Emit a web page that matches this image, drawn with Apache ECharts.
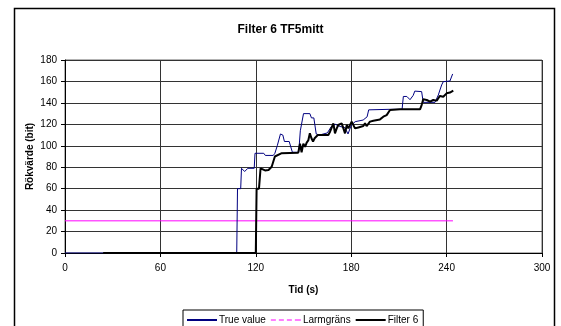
<!DOCTYPE html>
<html>
<head>
<meta charset="utf-8">
<script src="https://cdn.jsdelivr.net/npm/echarts@6/dist/echarts.min.js"></script>
<style>
html,body{margin:0;padding:0;background:#fff;}
#c{width:561px;height:326px;}
</style>
</head>
<body>
<div id="c"></div>
<script>
const chartTitle = 'Filter 6 TF5mitt';
const xAxisName = 'Tid (s)';
const yAxisName = 'Rökvärde (bit)';
const seriesNames = ['True value', 'Larmgräns', 'Filter 6'];

const trueTimes = [0, 108, 108.5, 110.5, 111, 113, 115, 119, 119.5, 125, 126, 131, 132, 133.5, 135.5, 137, 138, 141, 143, 147, 148, 150, 154, 155, 156.5, 158, 160, 165, 167.5, 170, 173, 176, 178, 180, 182.5, 187.5, 190, 191, 204, 212, 212.8, 215, 217, 219, 220, 224.3, 225.3, 232.7, 234.8, 235.8, 236.9, 237.9, 242.1, 243.8];
const trueValues = [0, 0, 60, 60, 79, 76, 79, 79, 93, 93, 91, 91, 93, 100, 111, 110, 104, 104, 94, 94, 114, 130, 130, 126, 126, 111, 110, 112, 118, 120, 118, 117, 111, 119, 122.5, 124, 127, 133.5, 134, 134, 146, 146, 143, 147, 151, 150.5, 140.5, 140.5, 147.4, 152, 156.7, 159.8, 160.4, 167];

const alarmTimes = [0, 244];
const alarmLevel = 30;

const filterTimes = [24, 120, 120.5, 122, 123, 125.8, 128, 130, 132, 136, 146.7, 147.8, 148.8, 149.9, 151, 152, 153, 154, 155, 156, 157, 158, 159, 165.6, 166.7, 167.7, 168.8, 169.8, 170.9, 171.9, 173, 174, 175.1, 176.1, 177.2, 178.2, 179.2, 180.3, 181.3, 182.4, 183.4, 184.5, 185.5, 187.6, 188.7, 189.7, 191.8, 193.9, 198.1, 200.2, 202.3, 204.4, 210.7, 223.3, 224.3, 225.3, 227.5, 229.6, 231.6, 233.8, 234.8, 235.8, 237.9, 240, 242.1, 244.2];
const filterValues = [0, 0, 60, 60, 79, 77, 77.4, 80.5, 90, 93, 93.6, 102, 94, 102, 99, 103, 105, 111.6, 107, 104, 107, 108.5, 110, 110, 113.1, 114.7, 120.9, 111.6, 116.2, 119.4, 117.8, 120.9, 116.2, 111.6, 119.4, 116.2, 114.7, 122.5, 120.9, 116.2, 115.3, 117.1, 118.4, 118.4, 120.9, 118.4, 122.5, 123.4, 124.6, 127.1, 128.6, 133.4, 134, 134, 138, 143.3, 142.7, 141.2, 142.7, 142.1, 144.3, 146.5, 145.8, 148.9, 149.6, 151.4];

const xTicks = {min: 0, max: 300, interval: 60};
const yTicks = {min: 0, max: 180, interval: 20};

const zip = (a, b) => a.map((t, i) => [t, b[i]]);
const font = '"Liberation Sans", Arial, sans-serif';
const dashIcon = 'path://M0,0h5v1h-5zM8,0h5v1h-5zM16,0h5v1h-5zM24,0h6v1h-6z';

const chart = echarts.init(document.getElementById('c'), null, {renderer: 'canvas'});
chart.setOption({
  animation: false,
  backgroundColor: '#fff',
  textStyle: {fontFamily: font},
  graphic: [{
    type: 'rect', left: 12, top: 6, silent: true,
    shape: {x: 0, y: 0, width: 540, height: 340},
    style: {fill: 'none', stroke: '#000', lineWidth: 1.5}
  }],
  title: {
    text: chartTitle, left: 'center', top: 19,
    textStyle: {fontFamily: font, fontSize: 12, fontWeight: 'bold', color: '#000'}
  },
  grid: {left: 65, right: 19, top: 60, bottom: 73, show: true, borderColor: '#666', borderWidth: 1, backgroundColor: '#fff'},
  legend: {
    left: 183, top: 310,
    orient: 'horizontal',
    itemWidth: 30, itemHeight: 2, itemGap: 5,
    padding: [5, 5, 6, 4],
    borderColor: '#000', borderWidth: 1, backgroundColor: '#fff',
    textStyle: {fontFamily: font, fontSize: 10, color: '#000', padding: [0, 0, 0, -3]},
    data: [
      {name: seriesNames[0], icon: 'rect'},
      {name: seriesNames[1], icon: dashIcon},
      {name: seriesNames[2], icon: 'rect'}
    ]
  },
  xAxis: {
    type: 'value', min: xTicks.min, max: xTicks.max, interval: xTicks.interval,
    name: xAxisName, nameLocation: 'middle', nameGap: 32, nameMoveOverlap: false,
    nameTextStyle: {fontFamily: font, fontSize: 10, fontWeight: 'bold', color: '#000'},
    axisLine: {show: true, onZero: false, lineStyle: {color: '#000', width: 1}},
    axisTick: {show: true, length: 4, lineStyle: {color: '#000'}},
    axisLabel: {fontFamily: font, fontSize: 10, color: '#000', margin: 10},
    splitLine: {show: true, lineStyle: {color: '#333', width: 1}}
  },
  yAxis: {
    type: 'value', min: yTicks.min, max: yTicks.max, interval: yTicks.interval,
    name: yAxisName, nameLocation: 'middle', nameGap: 30, nameRotate: 90, nameMoveOverlap: false,
    nameTextStyle: {fontFamily: font, fontSize: 10, fontWeight: 'bold', color: '#000'},
    axisLine: {show: true, onZero: false, lineStyle: {color: '#000', width: 1}},
    axisTick: {show: true, length: 4, lineStyle: {color: '#000'}},
    axisLabel: {fontFamily: font, fontSize: 10, color: '#000', margin: 8},
    splitLine: {show: true, lineStyle: {color: '#333', width: 1}}
  },
  series: [
    {
      name: seriesNames[0], type: 'line', symbol: 'none', z: 3,
      data: zip(trueTimes, trueValues),
      lineStyle: {color: '#000080', width: 1},
      itemStyle: {color: '#000080'}
    },
    {
      name: seriesNames[1], type: 'line', symbol: 'none', z: 2,
      data: alarmTimes.map(t => [t, alarmLevel]),
      lineStyle: {color: '#ff00ff', width: 1},
      itemStyle: {color: '#ff00ff'}
    },
    {
      name: seriesNames[2], type: 'line', symbol: 'none', z: 4,
      data: zip(filterTimes, filterValues),
      lineStyle: {color: '#000', width: 2},
      itemStyle: {color: '#000'}
    }
  ]
});
</script>
</body>
</html>
